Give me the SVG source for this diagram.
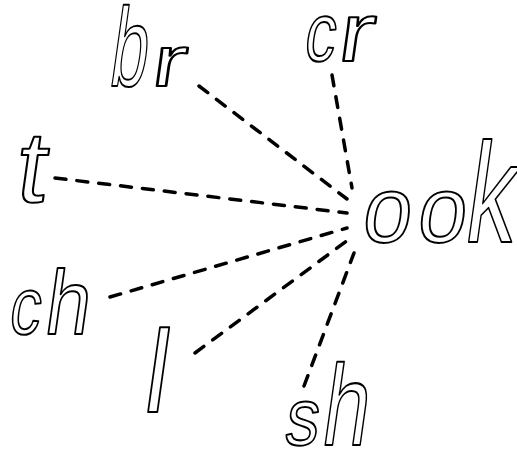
<svg xmlns="http://www.w3.org/2000/svg" width="517" height="454" viewBox="0 0 517 454">
<style>
.w{font-family:"Liberation Sans","Arial",sans-serif;fill:#fff;stroke:#000;stroke-width:2;stroke-linejoin:round}
.d{stroke:#000;stroke-width:3.5;stroke-linecap:round;stroke-dasharray:11 11;fill:none}
</style>
<rect width="517" height="454" fill="#fff"/>
<g id="connectors">
<line class="d" x1="199" y1="86" x2="347" y2="199"/>
<line class="d" x1="332" y1="75" x2="352" y2="188"/>
<line class="d" x1="55" y1="178" x2="347" y2="213"/>
<line class="d" x1="110" y1="297" x2="347" y2="228"/>
<line class="d" x1="195" y1="353" x2="348" y2="240"/>
<line class="d" x1="304" y1="386" x2="354" y2="253"/>
</g>
<g id="ook"><text class="w" transform="translate(0 242) skewX(-8)" y="0"><tspan x="360" font-size="94" textLength="48.6" lengthAdjust="spacingAndGlyphs">o</tspan><tspan x="415" font-size="94" textLength="48.6" lengthAdjust="spacingAndGlyphs">o</tspan><tspan x="462" font-size="142" textLength="49.5" lengthAdjust="spacingAndGlyphs">k</tspan></text></g>
<g id="br"><text class="w" transform="translate(0 86) skewX(-8)" y="0"><tspan x="107.6" font-size="112" textLength="37" lengthAdjust="spacingAndGlyphs">b</tspan><tspan x="150" font-size="72" textLength="34" lengthAdjust="spacingAndGlyphs">r</tspan></text></g>
<g id="cr"><text class="w" transform="translate(0 61) skewX(-8)" y="0"><tspan x="302.6" font-size="83" textLength="30.7" lengthAdjust="spacingAndGlyphs">c</tspan><tspan x="336" font-size="83" textLength="35.7" lengthAdjust="spacingAndGlyphs">r</tspan></text></g>
<g id="t"><text class="w" transform="translate(0 202) skewX(-8)" y="0"><tspan x="13.5" font-size="101" textLength="30" lengthAdjust="spacingAndGlyphs">t</tspan></text></g>
<g id="ch"><text class="w" transform="translate(0 334) skewX(-8)" y="0"><tspan x="7.6" font-size="81" textLength="30.8" lengthAdjust="spacingAndGlyphs">c</tspan><tspan x="42.7" font-size="91" textLength="44.5" lengthAdjust="spacingAndGlyphs">h</tspan></text></g>
<g id="l"><text class="w" transform="translate(0 412) skewX(-8)" y="0"><tspan x="141" font-size="117" textLength="23.4" lengthAdjust="spacingAndGlyphs">l</tspan></text></g>
<g id="sh"><text class="w" transform="translate(0 445) skewX(-8)" y="0"><tspan x="283" font-size="81" textLength="33.6" lengthAdjust="spacingAndGlyphs">s</tspan><tspan x="319.5" font-size="115" textLength="46" lengthAdjust="spacingAndGlyphs">h</tspan></text></g>
</svg>
